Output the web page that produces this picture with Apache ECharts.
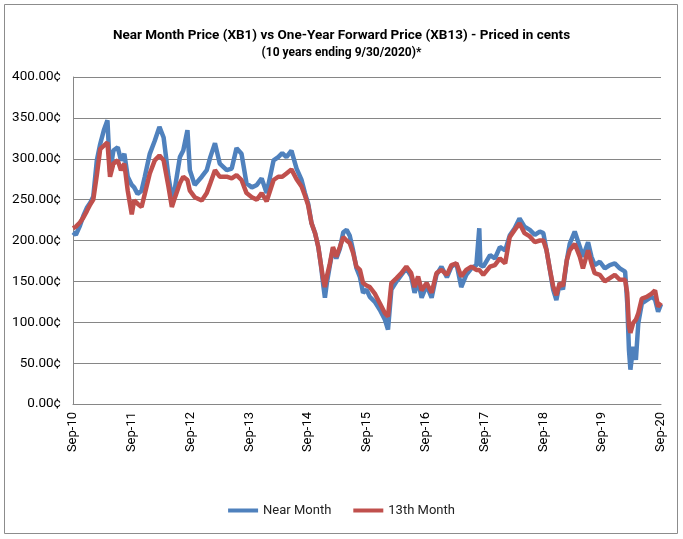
<!DOCTYPE html>
<html>
<head>
<meta charset="utf-8">
<script src="https://cdn.jsdelivr.net/npm/echarts@6/dist/echarts.min.js"></script>
<style>
  html, body { margin: 0; padding: 0; background: #fff; }
  #chart { width: 683px; height: 539px; }
</style>
</head>
<body>
<div id="chart"></div>
<script>
// values, cents per gallon
const dates = [
  '2010-09-30','2010-10-18','2010-11-12','2010-12-03','2010-12-25','2011-01-15','2011-02-03','2011-02-25',
  '2011-03-18','2011-04-10','2011-05-02','2011-05-18','2011-06-08','2011-07-05','2011-07-25','2011-08-15',
  '2011-09-05','2011-09-30','2011-10-15','2011-11-05','2011-11-30','2011-12-20','2012-01-20','2012-02-20',
  '2012-03-20','2012-04-15','2012-05-15','2012-06-05','2012-06-25','2012-07-25','2012-08-15','2012-09-10',
  '2012-09-25','2012-10-25','2012-12-08','2013-01-08','2013-01-30','2013-02-28','2013-03-30','2013-05-12',
  '2013-06-12','2013-07-12','2013-08-12','2013-09-12','2013-10-15','2013-11-15','2013-12-15','2014-01-15',
  '2014-02-27','2014-03-28','2014-04-22','2014-05-18','2014-06-18','2014-07-20','2014-08-20','2014-09-10',
  '2014-09-30','2014-10-21','2014-11-12','2014-12-02','2014-12-17','2015-01-02','2015-01-12','2015-01-24',
  '2015-02-12','2015-03-03','2015-03-24','2015-04-15','2015-05-06','2015-05-27','2015-06-15','2015-07-06',
  '2015-07-27','2015-08-18','2015-09-06','2015-09-27','2015-10-18','2015-11-18','2015-12-20','2016-01-20',
  '2016-02-08','2016-02-29','2016-04-01','2016-05-01','2016-06-01','2016-07-01','2016-07-22','2016-08-13',
  '2016-09-04','2016-10-05','2016-11-05','2016-12-05','2017-01-05','2017-02-08','2017-03-08','2017-04-08',
  '2017-05-08','2017-06-08','2017-07-10','2017-08-10','2017-08-28','2017-09-04','2017-09-22','2017-11-03',
  '2017-12-03','2018-01-03','2018-02-05','2018-03-05','2018-04-05','2018-05-05','2018-06-05','2018-07-08',
  '2018-08-08','2018-09-08','2018-09-30','2018-10-20','2018-11-10','2018-11-30','2018-12-20','2019-01-10',
  '2019-01-30','2019-02-23','2019-03-13','2019-04-13','2019-05-15','2019-06-03','2019-07-05','2019-07-26',
  '2019-08-15','2019-09-16','2019-10-17','2019-11-17','2019-12-18','2020-01-18','2020-02-20','2020-03-04',
  '2020-03-15','2020-03-24','2020-04-10','2020-04-27','2020-05-12','2020-06-03','2020-07-03','2020-08-03',
  '2020-08-24','2020-09-12','2020-09-30'
];

const nearMonth = [
  210,207,218,230,240,246,254,298,
  318,335,347,284,310,314,298,306,
  278,268,265,257,261,278,306,322,
  339,326,278,253,265,302,310,335,
  286,268,278,286,302,319,294,286,
  288,313,306,270,265,268,276,258,
  298,302,307,302,310,288,274,258,
  245,221,209,192,172,145,130,148,
  170,190,178,190,210,213,206,188,
  166,155,136,140,131,125,115,103,
  91,140,150,158,166,156,136,150,
  130,145,130,158,168,155,168,172,
  143,158,166,170,215,170,168,182,
  178,192,188,206,215,227,217,213,
  207,211,209,188,164,140,127,148,
  140,176,196,211,192,180,198,180,
  170,174,166,170,172,166,162,124,
  66,42,70,54,99,123,127,131,
  128,113,122
];

const thirteenthMonth = [
  215,217,222,228,236,244,250,280,
  312,316,320,278,294,298,286,294,
  261,232,249,245,241,257,282,298,
  304,298,266,241,253,270,278,274,
  261,253,249,258,270,286,278,278,
  276,280,274,258,253,250,258,248,
  274,278,278,282,287,275,266,255,
  243,221,209,192,172,152,143,156,
  172,192,180,192,204,200,197,185,
  168,164,148,145,143,135,123,111,
  107,148,154,160,168,160,143,156,
  139,148,136,160,164,158,170,172,
  156,164,168,164,164,162,158,168,
  170,178,172,204,213,221,209,205,
  198,200,200,188,164,144,133,148,
  144,176,188,196,180,166,188,172,
  160,158,150,154,158,152,152,136,
  95,87,99,103,111,129,131,135,
  139,119,124
];

const yearLabels = ['Sep-10','Sep-11','Sep-12','Sep-13','Sep-14','Sep-15','Sep-16','Sep-17','Sep-18','Sep-19','Sep-20'];

// x position = years since 9/30/2010
const start = Date.UTC(2010, 8, 30);
const end = Date.UTC(2020, 8, 30);
const toYears = d => {
  const p = d.split('-');
  return (Date.UTC(+p[0], +p[1] - 1, +p[2]) - start) / (end - start) * 10;
};
const pairs = vals => dates.map((d, i) => [toYears(d), vals[i]]);

const font = 'Roboto, "Noto Sans", sans-serif';
const chart = echarts.init(document.getElementById('chart'));

chart.setOption({
  backgroundColor: '#ffffff',
  animation: false,
  title: {
    text: 'Near Month Price (XB1) vs One-Year Forward Price (XB13) - Priced in cents',
    subtext: '(10 years ending 9/30/2020)*',
    left: 'center',
    top: 24,
    itemGap: 4,
    textStyle: { fontFamily: font, fontSize: 13.5, fontWeight: 'bold', color: '#000' },
    subtextStyle: { fontFamily: font, fontSize: 12, fontWeight: 'bold', color: '#000' }
  },
  legend: {
    bottom: 17,
    left: 'center',
    icon: 'rect',
    itemWidth: 30,
    itemHeight: 4,
    itemGap: 22,
    textStyle: { fontFamily: font, fontSize: 13, color: '#222' },
    data: ['Near Month', '13th Month']
  },
  grid: { left: 73, right: 22, top: 77, bottom: 135 },
  xAxis: {
    type: 'value',
    min: 0,
    max: 10,
    interval: 1,
    splitLine: { show: false },
    axisTick: { show: false },
    axisLine: { lineStyle: { color: '#868686' } },
    axisLabel: {
      rotate: 90,
      margin: 8,
      fontFamily: font,
      fontSize: 13,
      color: '#000',
      formatter: v => yearLabels[Math.round(v)]
    }
  },
  yAxis: {
    type: 'value',
    min: 0,
    max: 400,
    interval: 50,
    axisLine: { show: true, lineStyle: { color: '#868686' } },
    axisTick: { show: false },
    splitLine: { lineStyle: { color: '#868686', width: 1 } },
    axisLabel: {
      margin: 12,
      fontFamily: font,
      fontSize: 13.5,
      color: '#000',
      formatter: v => v.toFixed(2) + '\u00a2'
    }
  },
  series: [
    {
      name: 'Near Month',
      type: 'line',
      data: pairs(nearMonth),
      showSymbol: false,
      itemStyle: { color: '#4F81BD' },
      lineStyle: { color: '#4F81BD', width: 4.5 },
      z: 2
    },
    {
      name: '13th Month',
      type: 'line',
      data: pairs(thirteenthMonth),
      showSymbol: false,
      itemStyle: { color: '#C0504D' },
      lineStyle: { color: '#C0504D', width: 4.5 },
      z: 3
    }
  ],
  graphic: [{
    type: 'rect',
    shape: { x: 4.5, y: 4.5, width: 673, height: 529 },
    style: { fill: 'none', stroke: '#8c8c8c', lineWidth: 1 },
    silent: true
  }]
});
</script>
</body>
</html>
